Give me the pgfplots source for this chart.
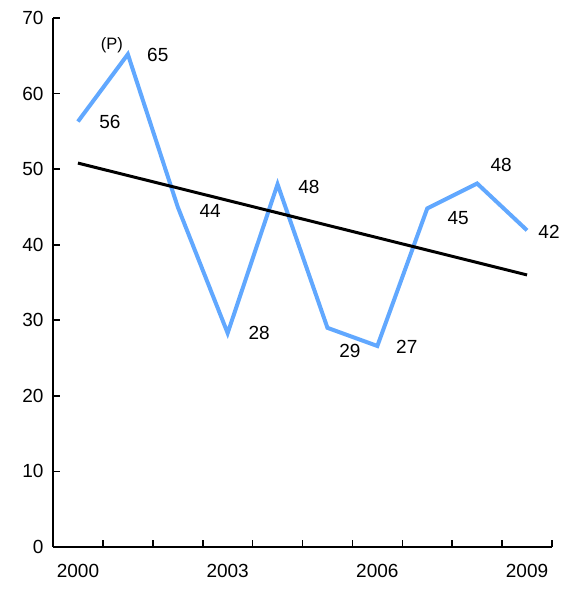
\documentclass[border=0pt]{standalone}
\usepackage{pgfplots}
\pgfplotsset{compat=1.18}
\usepackage{fontspec}
\setmainfont{Liberation Sans}
\definecolor{lblue}{RGB}{97,168,255}
\begin{document}
\begin{tikzpicture}
\begin{axis}[
 width=499pt, height=529pt, scale only axis,
 xmin=-0.5, xmax=9.5, ymin=0, ymax=70,
 axis x line*=bottom, axis y line*=left,
 ytick={0,10,...,70},
 xtick={0,3,6,9}, xticklabels={2000,2003,2006,2009},
 major x tick style={draw=none},
 minor xtick={0.5,1.5,...,9.5},
 tick align=inside,
 major tick length=7pt, minor tick length=7pt,
 tick style={black, line width=1.6pt},
 axis line style={black, line width=2.2pt},
 /pgf/number format/assume math mode=true,
 ticklabel style={font=\fontsize{19}{19}\selectfont},
 yticklabel style={xshift=-6pt},
 xticklabel style={yshift=-14pt},
 clip=false,
]
\addplot[lblue, line width=4pt, line join=miter] coordinates {
(0,56.3) (1,65.2) (2,45.0) (3,28.3) (4,48.0) (5,29.0) (6,26.6) (7,44.8) (8,48.1) (9,41.9)};
\addplot[black, line width=3pt] coordinates {(0,50.8) (9,36.0)};
\begin{scope}[every node/.style={font=\fontsize{19}{19}\selectfont, inner sep=0pt}]
\node at (axis cs:0.64,56.2) {56};
\node[font=\fontsize{16.5}{16.5}\selectfont] at (axis cs:0.68,66.4) {(P)};
\node at (axis cs:1.60,65.1) {65};
\node at (axis cs:2.65,44.5) {44};
\node at (axis cs:3.63,28.3) {28};
\node at (axis cs:4.63,47.6) {48};
\node at (axis cs:5.45,25.9) {29};
\node at (axis cs:6.59,26.5) {27};
\node at (axis cs:7.62,43.5) {45};
\node at (axis cs:8.48,50.5) {48};
\node at (axis cs:9.44,41.7) {42};
\end{scope}
\end{axis}
\useasboundingbox ([xshift=-53pt,yshift=-44pt]current axis.south west) rectangle ([xshift=17pt,yshift=18pt]current axis.north east);
\end{tikzpicture}
\end{document}
